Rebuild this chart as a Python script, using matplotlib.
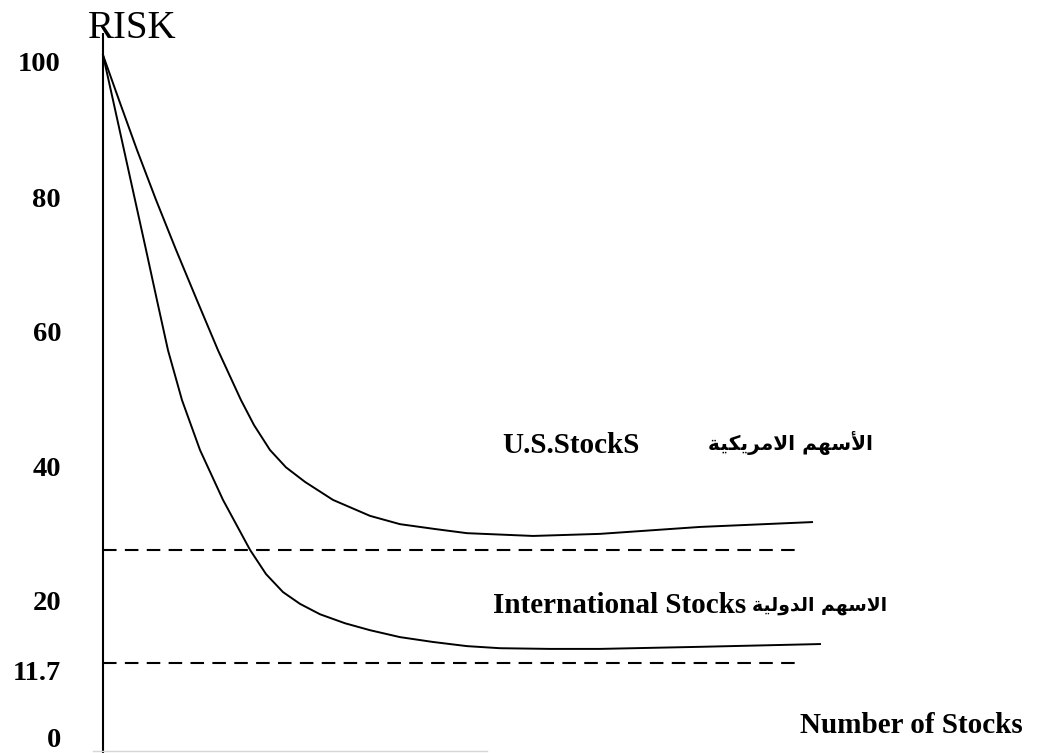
import matplotlib
matplotlib.use("Agg")
import matplotlib.pyplot as plt

# ---------------- data ----------------
us_x = [0.0, 1.6, 3.4, 5.3, 7.3, 9.4, 11.5, 13.8, 15.1, 16.7, 18.3, 20.2,
        23.0, 26.7, 29.7, 33.2, 36.4, 43.0, 49.7, 59.7, 70.9]
us_y = [100.0, 93.5, 86.3, 79.1, 71.9, 64.6, 57.4, 50.2, 46.6, 43.0, 40.5, 38.4,
        35.8, 33.5, 32.3, 31.6, 31.0, 30.6, 30.9, 31.9, 32.6]

intl_x = [0.0, 1.0, 2.1, 3.2, 4.3, 5.4, 6.5, 7.9, 9.7, 12.0, 14.7, 16.3, 18.0,
          19.7, 21.7, 24.2, 26.7, 29.7, 33.0, 36.4, 39.7, 44.7, 49.7, 59.7, 71.7]
intl_y = [100.0, 93.5, 86.3, 79.1, 71.9, 64.6, 57.4, 50.2, 43.0, 35.8, 28.6, 25.1, 22.5,
          20.8, 19.3, 18.0, 17.0, 16.0, 15.3, 14.7, 14.4, 14.3, 14.3, 14.6, 15.0]

ref_levels = [28.6, 12.3]          # dashed reference lines
ref_x_end = 69.9

tick_labels = ["100", "80", "60", "40", "20", "11.7", "0"]
tick_label_y = [97.7, 78.1, 58.7, 39.2, 19.9, 9.8, 0.14]   # baselines

us_label_en = "U.S.StockS"
intl_label_en = "International Stocks"
# Arabic labels, pre-shaped (presentation forms) in visual order
us_label_ar = ("\uFE94\uFEF4\uFEDC\uFEF3\uFEAE\uFEE3\uFEFB\uFE8D" + " "
               + "\uFEE2\uFEEC\uFEB3\uFEF7\uFE8D")          # الأسهم الامريكية
intl_label_ar = ("\uFE94\uFEF4\uFEDF\uFEED\uFEAA\uFEDF\uFE8D" + " "
                 + "\uFEE2\uFEEC\uFEB3\uFEFB\uFE8D")        # الاسهم الدولية
y_title = "RISK"
x_title = "Number of Stocks"

# ---------------- figure ----------------
fig = plt.figure(figsize=(10.42, 7.53), dpi=100)
ax = fig.add_axes([0, 0, 1, 1])
ax.set_xlim(-10.3, 93.9)
ax.set_ylim(-0.7215, 107.94)
ax.axis("off")

serif = ["Liberation Serif", "DejaVu Serif"]
arab = ["DejaVu Sans"]

# vertical axis
ax.plot([0, 0], [-0.72, 103.2], color="black", lw=1.5, solid_capstyle="butt")
# faint bottom line
ax.plot([-1.0, 38.4], [-0.43, -0.43], color="#d6d6d6", lw=1.0)

# curves
ax.plot(us_x, us_y, color="black", lw=1.4, solid_joinstyle="round")
ax.plot(intl_x, intl_y, color="black", lw=1.4, solid_joinstyle="round")

# dashed reference lines
for lvl in ref_levels:
    ax.plot([0, ref_x_end], [lvl, lvl], color="black", lw=1.5,
            linestyle=(0, (6.5, 4)))

# tick labels
for lab, yy in zip(tick_labels, tick_label_y):
    ax.text(-4.2, yy, lab, ha="right", va="baseline", fontsize=20.5,
            fontweight="bold", family=serif)

# titles
ax.text(2.9, 102.45, y_title, ha="center", va="baseline", fontsize=28,
        family=serif)
ax.text(69.7, 2.16, x_title, ha="left", va="baseline", fontsize=21,
        fontweight="bold", family=serif)

# series labels
ax.text(39.9, 42.57, us_label_en, ha="left", va="baseline", fontsize=21,
        fontweight="bold", family=serif)
ax.text(77.0, 43.0, us_label_ar, ha="right", va="baseline", fontsize=14.5,
        fontweight="bold", family=arab)
ax.text(39.0, 19.5, intl_label_en, ha="left", va="baseline", fontsize=21,
        fontweight="bold", family=serif)
ax.text(78.4, 19.8, intl_label_ar, ha="right", va="baseline", fontsize=13.5,
        fontweight="bold", family=arab)

fig.savefig("out.png", dpi=100)
